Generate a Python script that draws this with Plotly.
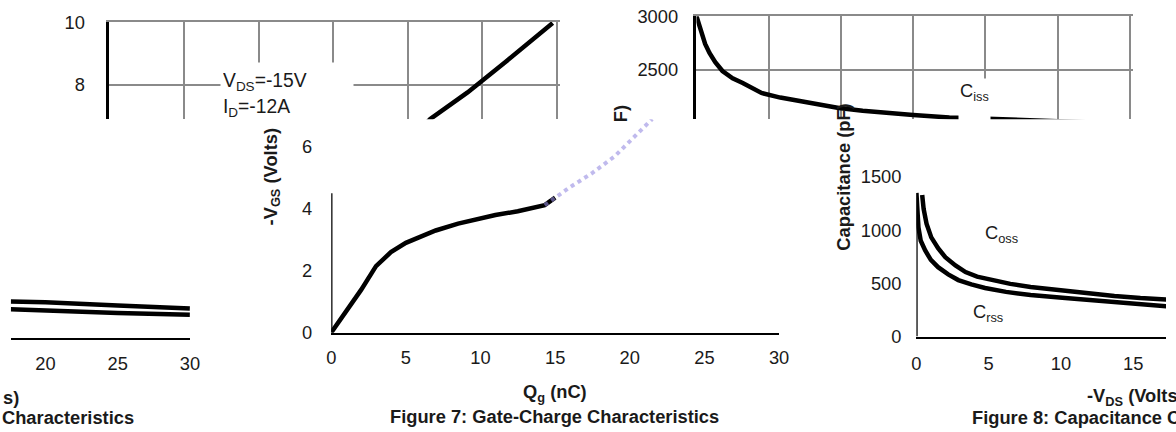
import plotly.graph_objects as go

# Figure size; positions below are given in pixels of the reference picture
W, H = 1176, 432
# the page is photographed slightly reduced and shifted; pre-compensate
SX, OX = 0.992, 2.2
SY, OY = 0.959, 8.8


def fx(p):
    return ((p - OX) / SX) / W


def fy(p):
    return 1 - ((p - OY) / SY) / H


FONT = "Liberation Sans, Arial, sans-serif"
TXT = "#1a1a1a"
GRID = "#8a8a8a"
FS = 18.3

# ---------------- data ----------------
# Figure 7: gate charge
qg = [0, 1, 2, 3, 4, 5, 6, 7, 8.5, 10, 11, 12.5, 13.5, 14.3, 15, 16, 17.5, 19, 21.5, 24, 26.6, 29.7]
vgs = [0, 0.7, 1.38, 2.15, 2.6, 2.9, 3.1, 3.3, 3.52, 3.7, 3.8, 3.92, 4.02, 4.12, 4.36, 4.7, 5.16, 5.7, 6.9, 7.75, 8.75, 9.97]
gate_ticks_x = [0, 5, 10, 15, 20, 25, 30]
gate_ticks_y_low = [0, 2, 4, 6]
gate_ticks_y_up = [8, 10]

# Figure 8: capacitance
vds_ciss = [0, 0.15, 0.35, 0.6, 0.9, 1.3, 1.8, 2.5, 3.2, 4.5, 5.8, 7.1, 8.5, 9.85, 11.5, 13.1, 15, 17.5, 20, 25, 30]
ciss = [3000, 2930, 2833, 2740, 2656, 2570, 2488, 2420, 2376, 2283, 2240, 2209, 2175, 2143, 2118, 2097, 2077, 2055, 2040, 2015, 1995]
vds_oss = [0.4, 0.5, 0.7, 1.03, 1.5, 2.0, 2.7, 3.4, 4.2, 5.2, 6.5, 7.9, 10.3, 12, 13.7, 15.5, 17.6, 20]
coss = [1330, 1200, 1060, 932, 830, 746, 668, 606, 563, 531, 495, 466, 429, 405, 382, 362, 345, 330]
vds_rss = [0, 0.05, 0.14, 0.3, 0.6, 1.0, 1.5, 2.2, 2.9, 3.8, 4.75, 6.2, 7.9, 10.3, 12, 13.7, 15.5, 17.6, 20]
crss = [1350, 1200, 1025, 900, 811, 720, 652, 585, 531, 490, 457, 420, 391, 363, 340, 317, 292, 270, 255]
cap_ticks_x = [0, 5, 10, 15, 20]
cap_ticks_y_low = [0, 500, 1000, 1500]
cap_ticks_y_up = [2500, 3000]
cap_grid_x = [5, 10, 15, 20, 25, 30]

# Figure 6 fragment
f6_x = [17.6, 20, 25, 30]
f6_a = [1.14, 1.12, 1.02, 0.92]
f6_b = [0.90, 0.85, 0.78, 0.72]
f6_ticks = [20, 25, 30]

fig = go.Figure()

# gate charge, lower band
low_q = [q for q in qg if q <= 15]
low_v = vgs[:len(low_q)]
fig.add_trace(go.Scatter(x=low_q, y=low_v, xaxis="x", yaxis="y", mode="lines",
                         line=dict(color="black", width=4.5)))
fa_q = [q for q in qg if 14.3 <= q <= 22]
fa_v = [v for q, v in zip(qg, vgs) if 14.3 <= q <= 22]
fig.add_trace(go.Scatter(x=fa_q, y=fa_v, xaxis="x", yaxis="y", mode="lines",
                         line=dict(color="rgba(150,140,225,0.6)", width=4, dash="dot")))
# gate charge, upper (shifted) band
fig.add_trace(go.Scatter(x=qg, y=vgs, xaxis="x2", yaxis="y2", mode="lines",
                         line=dict(color="black", width=4.5)))
# capacitance lower band
fig.add_trace(go.Scatter(x=vds_oss, y=coss, xaxis="x3", yaxis="y3", mode="lines",
                         line=dict(color="black", width=4.5)))
fig.add_trace(go.Scatter(x=vds_rss, y=crss, xaxis="x3", yaxis="y3", mode="lines",
                         line=dict(color="black", width=4.5)))
# capacitance upper band
fig.add_trace(go.Scatter(x=vds_ciss, y=ciss, xaxis="x4", yaxis="y4", mode="lines",
                         line=dict(color="black", width=4.5)))
# figure 6 fragment
fig.add_trace(go.Scatter(x=f6_x, y=f6_a, xaxis="x5", yaxis="y5", mode="lines",
                         line=dict(color="black", width=4.5)))
fig.add_trace(go.Scatter(x=f6_x, y=f6_b, xaxis="x5", yaxis="y5", mode="lines",
                         line=dict(color="black", width=4.5)))

tickfont = dict(family=FONT, size=FS, color=TXT)
base = dict(zeroline=False, showgrid=False, ticks="", fixedrange=True, tickfont=tickfont)

right_ref = OX + SX * W                 # reference pixel at the right edge of the figure
x3_right = (right_ref - 918) / 14.52

fig.update_layout(
    width=W, height=H, autosize=False, showlegend=False,
    margin=dict(l=0, r=0, t=0, b=0, pad=0),
    paper_bgcolor="white", plot_bgcolor="rgba(0,0,0,0)",
    font=dict(family=FONT, color=TXT, size=FS),
    # gate charge lower
    xaxis=dict(base, domain=[fx(330), fx(780)], range=[0, 30], tickvals=gate_ticks_x,
               showline=True, linecolor="black", linewidth=2, ticklabelstandoff=7, anchor="y"),
    yaxis=dict(base, domain=[fy(333), fy(118)], range=[0, 6.89], tickvals=gate_ticks_y_low,
               showline=False, ticklabelstandoff=18, anchor="x"),
    # gate charge upper
    xaxis2=dict(base, domain=[fx(107), fx(560)], range=[0, 30.2], tickvals=gate_ticks_x[1:],
                showgrid=True, gridcolor=GRID, gridwidth=2, showticklabels=False,
                side="top", showline=True, linecolor=GRID, linewidth=2, anchor="y2"),
    yaxis2=dict(base, domain=[fy(118), fy(20)], range=[6.89, 10], tickvals=gate_ticks_y_up,
                showgrid=True, gridcolor=GRID, gridwidth=2, showline=True, linecolor="black",
                linewidth=2.5, ticklabelstandoff=18, anchor="x2"),
    # capacitance lower
    xaxis3=dict(base, domain=[fx(918), 1], range=[0, x3_right], tickvals=cap_ticks_x,
                showline=True, linecolor="black", linewidth=2, ticklabelstandoff=9, anchor="y3"),
    yaxis3=dict(base, domain=[fy(337), fy(128)], range=[0, 1948], tickvals=cap_ticks_y_low,
                showline=False, ticklabelstandoff=14, anchor="x3"),
    # capacitance upper
    xaxis4=dict(base, domain=[fx(697), fx(1135.5)], range=[0, 30.2], tickvals=cap_grid_x,
                showgrid=True, gridcolor=GRID, gridwidth=2, showticklabels=False,
                side="top", showline=True, linecolor=GRID, linewidth=2, anchor="y4"),
    yaxis4=dict(base, domain=[fy(118), fy(14)], range=[2037, 3000], tickvals=cap_ticks_y_up,
                showgrid=True, gridcolor=GRID, gridwidth=2, showline=True, linecolor="black",
                linewidth=2.5, ticklabelstandoff=12, anchor="x4"),
    # figure 6 fragment
    xaxis5=dict(base, domain=[fx(8), fx(188)], range=[17.6, 30], tickvals=f6_ticks,
                showline=True, linecolor="black", linewidth=2, ticklabelstandoff=8, anchor="y5"),
    yaxis5=dict(base, domain=[fy(338), fy(128)], range=[0, 6.6], showticklabels=False,
                showline=False, anchor="x5"),
)

# visible left-axis segments of the lower band
fig.add_shape(type="line", xref="x", yref="y", x0=0, x1=0, y0=0, y1=4.5,
              line=dict(color="black", width=2.5), layer="above")
fig.add_shape(type="line", xref="x3", yref="y3", x0=0, x1=0, y0=0, y1=1350,
              line=dict(color="black", width=2.5), layer="above")


def ann(text, x, y, xanchor="center", yanchor="middle", size=FS, **kw):
    fig.add_annotation(text=text, x=fx(x), y=fy(y), xref="paper", yref="paper",
                       xanchor=xanchor, yanchor=yanchor, showarrow=False,
                       font=dict(family=FONT, size=size, color=TXT), **kw)


# gate charge texts
ann("V<sub>DS</sub>=-15V<br>I<sub>D</sub>=-12A", 218, 60, xanchor="left", yanchor="top",
    size=19.3, align="left", bgcolor="white", width=128, height=60, borderpad=2, valign="middle")
ann("<b>Q<sub>g</sub> (nC)</b>", 555, 394)
ann("<b>Figure 7: Gate-Charge Characteristics</b>", 554, 418)
ann("<b>-V<sub>GS</sub> (Volts)</b>", 270, 176, textangle=-90)

# capacitance texts
ann("C<sub>iss</sub>", 960, 76, xanchor="left", yanchor="top", bgcolor="white",
    height=42, valign="top", borderpad=1)
ann("C<sub>oss</sub>", 985, 234, xanchor="left")
ann("C<sub>rss</sub>", 973, 313, xanchor="left")
ann("<b>-V<sub>DS</sub> (Volts)</b>", 1087, 398, xanchor="left")
ann("<b>Figure 8: Capacitance Characteristics</b>", 972, 419, xanchor="left")
ann("<b>Capacitance (pF)</b>", 845, 176, textangle=-90)
ann("<b>F)</b>", 621, 112, textangle=-90)

# figure 6 fragment texts
ann("<b>s)</b>", 18, 398, xanchor="right")
ann("<b>Characteristics</b>", 134, 419, xanchor="right")

fig.write_html("out.html", config={"displayModeBar": False},
               post_script="document.body.style.margin='0';")
